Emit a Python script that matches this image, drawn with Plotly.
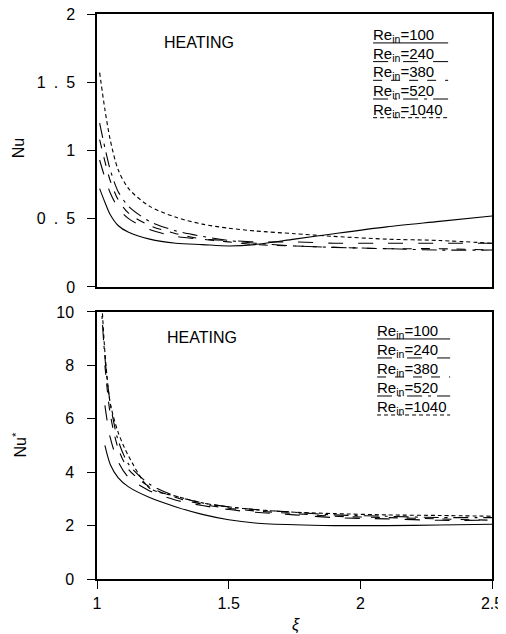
import plotly.graph_objects as go

# ---------------- data ----------------
re_labels = ["100", "240", "380", "520", "1040"]
dash_styles = ["solid", "longdash", "dash", "longdashdot", "4px,3px"]

xi_top = [1.01, 1.03, 1.05, 1.08, 1.12, 1.2, 1.3, 1.4, 1.5, 1.6, 1.75, 1.9, 2.1, 2.3, 2.5]
nu_100 = [0.72, 0.62, 0.53, 0.45, 0.40, 0.35, 0.32, 0.31, 0.30, 0.31, 0.35, 0.39, 0.44, 0.48, 0.52]
nu_240 = [0.93, 0.80, 0.69, 0.58, 0.50, 0.42, 0.37, 0.35, 0.34, 0.33, 0.33, 0.32, 0.32, 0.32, 0.32]
nu_380 = [1.08, 0.92, 0.78, 0.64, 0.54, 0.45, 0.39, 0.35, 0.33, 0.31, 0.30, 0.29, 0.28, 0.28, 0.27]
nu_520 = [1.20, 1.02, 0.86, 0.70, 0.59, 0.48, 0.41, 0.37, 0.34, 0.32, 0.30, 0.29, 0.28, 0.27, 0.27]
nu_1040 = [1.57, 1.30, 1.08, 0.86, 0.72, 0.59, 0.51, 0.46, 0.43, 0.41, 0.39, 0.37, 0.35, 0.34, 0.32]

xi_bot = [1.0, 1.015, 1.03, 1.05, 1.08, 1.12, 1.2, 1.3, 1.4, 1.5, 1.6, 1.75, 1.9, 2.1, 2.3, 2.5]
nus_100 = [None, None, 5.0, 4.3, 3.8, 3.45, 3.05, 2.7, 2.42, 2.22, 2.1, 2.03, 2.0, 2.0, 2.02, 2.05]
nus_240 = [None, None, 6.5, 5.3, 4.4, 3.8, 3.3, 2.95, 2.75, 2.6, 2.5, 2.4, 2.3, 2.25, 2.2, 2.2]
nus_380 = [None, None, 8.0, 6.2, 4.9, 4.1, 3.45, 3.05, 2.8, 2.65, 2.55, 2.45, 2.35, 2.3, 2.25, 2.2]
nus_520 = [14.0, 10.5, 8.3, 6.6, 5.2, 4.3, 3.55, 3.1, 2.85, 2.7, 2.6, 2.5, 2.4, 2.35, 2.3, 2.3]
nus_1040 = [None, 11.0, 8.5, 6.6, 5.5, 4.6, 3.4, 3.1, 2.85, 2.7, 2.6, 2.5, 2.45, 2.4, 2.38, 2.35]

top_series = [nu_100, nu_240, nu_380, nu_520, nu_1040]
bot_series = [nus_100, nus_240, nus_380, nus_520, nus_1040]

top_tickvals = [0, 0.5, 1, 1.5, 2]
top_ticktext = ["0", "0\u2002.\u20025", "1", "1\u2002.\u20025", "2"]
bot_tickvals = [0, 2, 4, 6, 8, 10]
x_tickvals = [1, 1.5, 2, 2.5]
x_ticktext = ["1", "1.5", "2", "2.5"]

# ---------------- figure ----------------
fig = go.Figure()
FONT = "Liberation Sans, Arial, sans-serif"

for ys, d in zip(top_series, dash_styles):
    fig.add_trace(go.Scatter(x=xi_top, y=ys, mode="lines", xaxis="x", yaxis="y",
                             line=dict(color="black", width=1.1, dash=d, shape="spline", smoothing=0.8),
                             showlegend=False, connectgaps=False))
for ys, d in zip(bot_series, dash_styles):
    fig.add_trace(go.Scatter(x=xi_bot, y=ys, mode="lines", xaxis="x2", yaxis="y2",
                             line=dict(color="black", width=1.1, dash=d, shape="spline", smoothing=0.8),
                             showlegend=False, connectgaps=False))

axis_common = dict(showline=True, linecolor="black", linewidth=1.5, mirror=True,
                   showgrid=False, zeroline=False, ticklen=8, automargin=False,
                   tickcolor="black", tickwidth=1, ticklabeloverflow="allow",
                   tickfont=dict(family=FONT, size=16, color="black"))

# page body has an 8px default margin: figure is 8px smaller and margins compensate
fig.update_layout(
    width=498, height=626,
    margin=dict(l=89, r=14, t=6, b=55),
    paper_bgcolor="white", plot_bgcolor="white",
    xaxis=dict(range=[1, 2.5], domain=[0, 1], anchor="y", showticklabels=False,
               ticks="", **axis_common),
    yaxis=dict(range=[0, 2], domain=[0.517, 1], anchor="x", ticks="outside",
               tickvals=top_tickvals, ticktext=top_ticktext, ticklabelstandoff=9,
               **axis_common),
    xaxis2=dict(range=[1, 2.5], domain=[0, 1], anchor="y2", ticks="outside",
                tickvals=x_tickvals, ticktext=x_ticktext, ticklabelstandoff=1,
                **axis_common),
    yaxis2=dict(range=[0, 10], domain=[0, 0.4726], anchor="x2", ticks="outside",
                tickvals=bot_tickvals, ticklabelstandoff=10,
                **axis_common),
)

# axis titles
fig.add_annotation(x=-0.2253, y=0.52 + 0.483 * 0.5, xref="paper", yref="paper", text="Nu",
                   textangle=-90, showarrow=False, xanchor="left", yanchor="middle",
                   font=dict(family=FONT, size=16, color="black"))
fig.add_annotation(x=-0.2253, y=0.4726 * 0.5, xref="paper", yref="paper", text="Nu<sup>*</sup>",
                   textangle=-90, showarrow=False, xanchor="left", yanchor="middle",
                   font=dict(family=FONT, size=16, color="black"))
fig.add_annotation(x=0.505, y=-0.081, xref="paper", yref="paper", text="<i>ξ</i>",
                   showarrow=False, xanchor="center", yanchor="middle",
                   font=dict(family=FONT, size=16, color="black"))

# HEATING labels
fig.add_annotation(x=0.165, y=0.897, xref="x domain", yref="y domain", text="HEATING",
                   showarrow=False, xanchor="left", yanchor="middle",
                   font=dict(family=FONT, size=16, color="black"))
fig.add_annotation(x=0.172, y=0.903, xref="x2 domain", yref="y2 domain", text="HEATING",
                   showarrow=False, xanchor="left", yanchor="middle",
                   font=dict(family=FONT, size=16, color="black"))

# Legend: text with line-style underline
def add_legend(xref, yref, x0, y_top, step, width):
    for i, (lab, d) in enumerate(zip(re_labels, dash_styles)):
        yy = y_top - i * step
        fig.add_annotation(x=x0, y=yy, xref=xref, yref=yref,
                           text="Re<sub>in</sub>=" + lab, showarrow=False,
                           xanchor="left", yanchor="bottom", yshift=-4, xshift=-2,
                           font=dict(family=FONT, size=15, color="black"))
        fig.add_shape(type="line", xref=xref, yref=yref, x0=x0, x1=x0 + width,
                      y0=yy, y1=yy, line=dict(color="black", width=1, dash=d))

add_legend("x domain", "y domain", 0.699, 0.894, 0.0685, 0.19)
add_legend("x2 domain", "y2 domain", 0.709, 0.899, 0.0712, 0.185)

fig.write_html("out.html")
